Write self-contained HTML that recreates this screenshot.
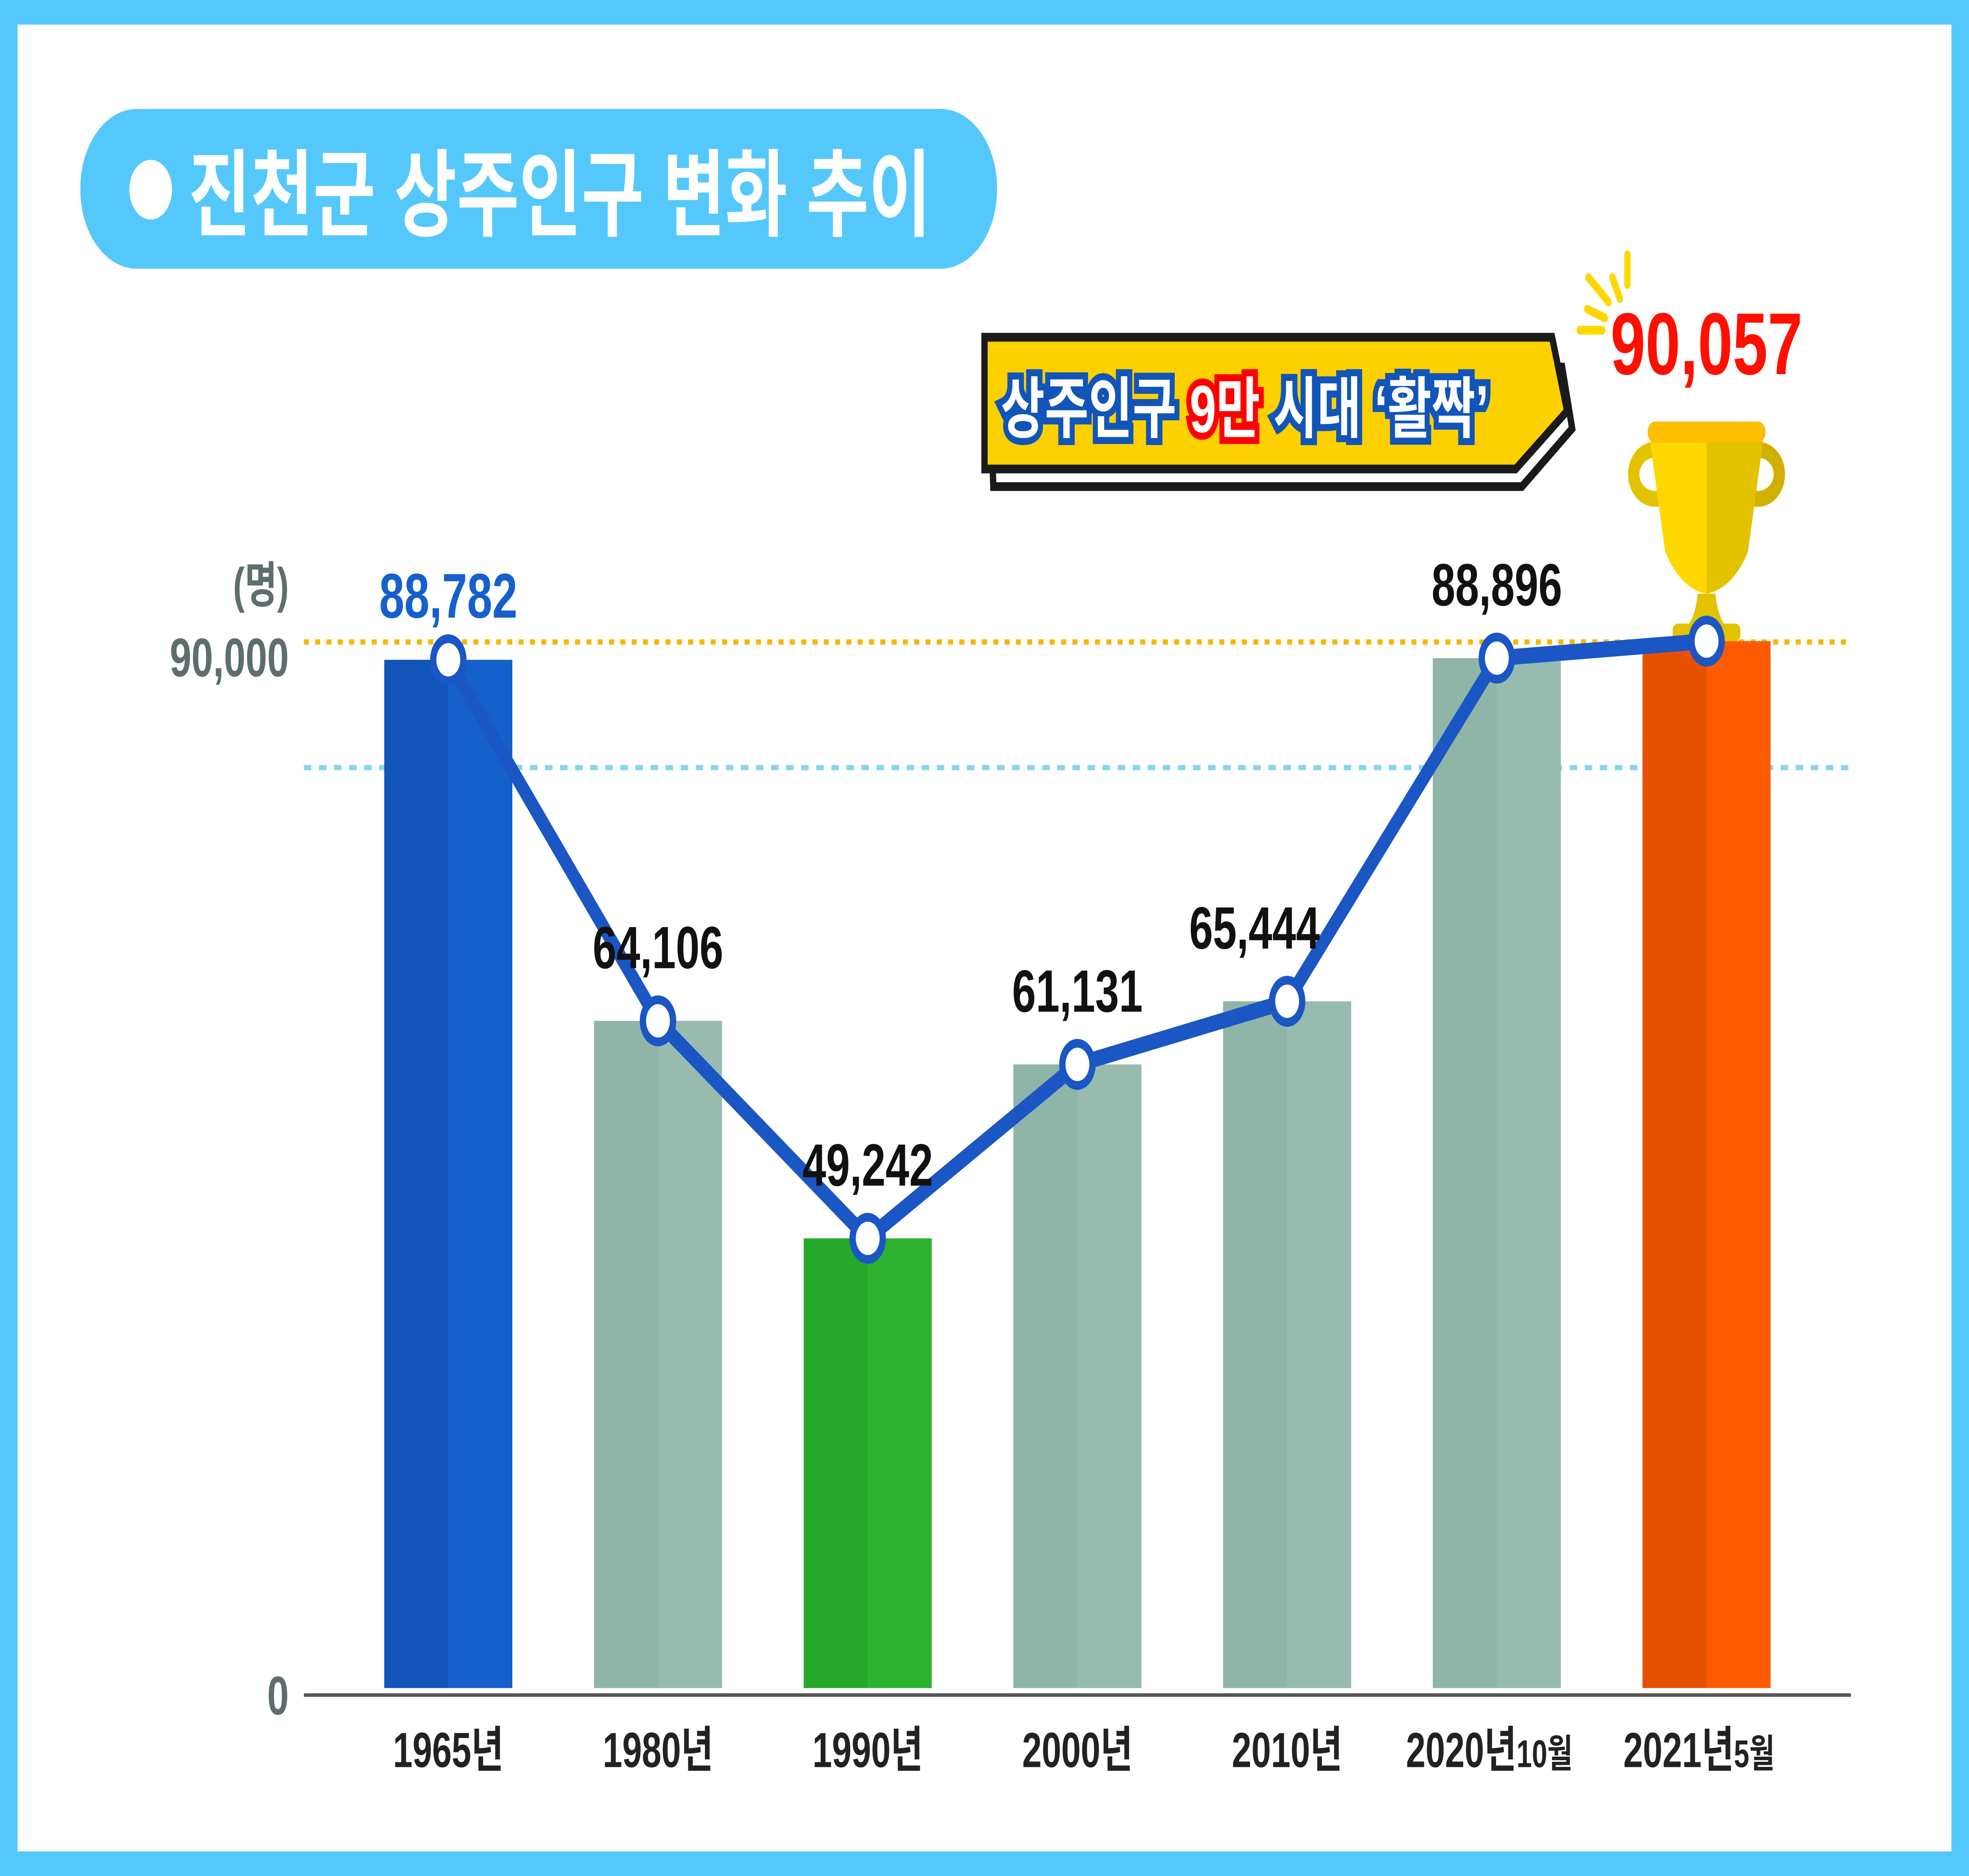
<!DOCTYPE html>
<html><head><meta charset="utf-8">
<style>
html,body{margin:0;padding:0;background:#55c8fb;width:100%;height:100%;overflow:hidden;}
svg{display:block;position:fixed;left:0;top:0;width:100vw;height:100vh;}
text{font-family:"Liberation Sans","Noto Sans CJK KR",sans-serif;font-weight:bold;}
</style></head>
<body>
<svg id="chart" viewBox="0 0 1568 1068" preserveAspectRatio="none" xmlns="http://www.w3.org/2000/svg">
  <rect x="0" y="0" width="1568" height="1068" fill="#55c8fb"/>
  <rect x="14" y="14" width="1540" height="1040" fill="#ffffff"/>
  <g>
    <rect x="64" y="62" width="730" height="91" rx="45" fill="#55c8fb"/>
    <circle cx="120" cy="108" r="17" fill="#ffffff"/>
    <text x="150" y="130" font-size="54" fill="#ffffff">진천군 상주인구 변화 추이</text>
  </g>
  <g>
    <polygon points="788,209 1244,209 1252,244 1212,277 791,277" fill="#ffffff" stroke="#1a1a1a" stroke-width="5"/>
    <polygon points="784,192 1236,192 1248,234 1207,267 784,267" fill="#fdd000" stroke="#1a1a1a" stroke-width="5"/>
    <text x="797" y="246" font-size="38" fill="#ffffff" stroke="#1255b8" stroke-width="8" paint-order="stroke">상주인구 <tspan stroke="#ff0000">9만</tspan> 시대 ‘활짝’</text>
  </g>
  <g stroke="#ffd700" stroke-width="5" stroke-linecap="round">
    <line x1="1296" y1="145" x2="1296" y2="162"/>
    <line x1="1284" y1="158" x2="1290" y2="170"/>
    <line x1="1265" y1="158" x2="1281" y2="172"/>
    <line x1="1264" y1="176" x2="1278" y2="181"/>
    <line x1="1258" y1="188" x2="1276" y2="188"/>
  </g>
  <g>
    <ellipse cx="1318" cy="270" rx="17" ry="14" fill="none" stroke="#e3c200" stroke-width="9"/>
    <ellipse cx="1400" cy="270" rx="17" ry="14" fill="none" stroke="#d0b000" stroke-width="9"/>
    <path d="M1314,251 L1404,251 L1392,314 Q1380,335 1359,338 Q1338,335 1326,314 Z" fill="#fed700"/>
    <path d="M1359,251 L1404,251 L1392,314 Q1380,335 1359,338 Z" fill="#e3c200"/>
    <rect x="1312" y="240" width="94" height="12" rx="6" fill="#fbbf00"/>
    <path d="M1352,338 L1366,338 Q1368,352 1376,358 L1342,358 Q1350,352 1352,338 Z" fill="#e3c200"/>
    <rect x="1332" y="355" width="54" height="10" rx="4" fill="#e3c200"/>
  </g>
  <g id="grid"></g>
  <g id="bars"></g>
  <line x1="242" y1="965" x2="1474" y2="965" stroke="#555555" stroke-width="2"/>
  <g id="line"></g>
  <g id="labels"></g>
  <g id="xlabels"></g>
  <g>
    <text x="230" y="343" font-size="28" fill="#5e6e6c" text-anchor="end">(명)</text>
    <text x="230" y="385" font-size="31" fill="#5e6e6c" text-anchor="end">90,000</text>
    <text x="230" y="976" font-size="31" fill="#5e6e6c" text-anchor="end">0</text>
  </g>
</svg>
<script>
const categories = ["1965년","1980년","1990년","2000년","2010년","2020년","2021년"];
const subLabels = ["","","","","","10월","5월"];
const values = [88782,64106,49242,61131,65444,88896,90057];
const valueLabels = ["88,782","64,106","49,242","61,131","65,444","88,896","90,057"];
const yTicks = [0,90000];

const NS="http://www.w3.org/2000/svg";
const baseY=961;
function yScale(v){return 365+(90057-v)*0.00833;}
function xScale(i){return 357+i*167;}
const barW=102;
const colorsL=["#1255b8","#8fb5a8","#26a82b","#8fb5a8","#8fb5a8","#8fb5a8","#e65100"];
const colorsR=["#1560cc","#98bbb0","#2db230","#98bbb0","#98bbb0","#98bbb0","#ff5a00"];
function mk(tag,attrs,parent){const e=document.createElementNS(NS,tag);for(const k in attrs)e.setAttribute(k,attrs[k]);parent.appendChild(e);return e;}

const grid=document.getElementById('grid');
const g1=mk('line',{x1:242,x2:1474,y1:yScale(yTicks[1]),y2:yScale(yTicks[1]),stroke:'#f5b800','stroke-width':3,'stroke-dasharray':'4 5'},grid);


const g2=mk('line',{x1:242,x2:1474,y1:437,y2:437,stroke:'#8ad4ee','stroke-width':3,'stroke-dasharray':'6 6'},grid);



const bars=document.getElementById('bars');
values.forEach((v,i)=>{
  const x=xScale(i), y=yScale(v);
  const l=mk('rect',{x:x-barW/2,y:y,width:barW/2,height:baseY-y,fill:colorsL[i]},bars);
  
  
  const r=mk('rect',{x:x,y:y,width:barW/2,height:baseY-y,fill:colorsR[i]},bars);
  
  
});

const lg=document.getElementById('line');
const pts=values.map((v,i)=>xScale(i)+','+yScale(v)).join(' ');
const pl=mk('polyline',{points:pts,fill:'none',stroke:'#1a56c4','stroke-width':9,'stroke-linejoin':'round'},lg);


values.forEach((v,i)=>{
  const c=mk('circle',{cx:xScale(i),cy:yScale(v),r:12,fill:'#ffffff',stroke:'#1a56c4','stroke-width':5},lg);
  
  
});

const lab=document.getElementById('labels');
values.forEach((v,i)=>{
  let attrs={x:xScale(i),y:yScale(v)-30,'font-size':34,fill:'#111111','text-anchor':'middle'};
  if(i===0){attrs={x:xScale(i),y:yScale(v)-24,'font-size':36,fill:'#1560cc','text-anchor':'middle',stroke:'#ffffff','stroke-width':5,'paint-order':'stroke'};}
  if(i===4){attrs.x=xScale(i)-26;}
  if(i===6){attrs={x:xScale(i),y:213,'font-size':50,fill:'#ff0f00','text-anchor':'middle',stroke:'#ffffff','stroke-width':5,'paint-order':'stroke'};}
  const t=mk('text',attrs,lab);
  t.textContent=valueLabels[i];
  
  
});

const xl=document.getElementById('xlabels');
categories.forEach((c,i)=>{
  const t=mk('text',{x:xScale(i)+(subLabels[i]?-6:0),y:1006,'font-size':28,fill:'#222222','text-anchor':'middle'},xl);
  t.textContent=c;
  if(subLabels[i]){const s=document.createElementNS(NS,'tspan');s.setAttribute('font-size','22');s.textContent=subLabels[i];t.appendChild(s);}
  
  
});
</script>
</body></html>
